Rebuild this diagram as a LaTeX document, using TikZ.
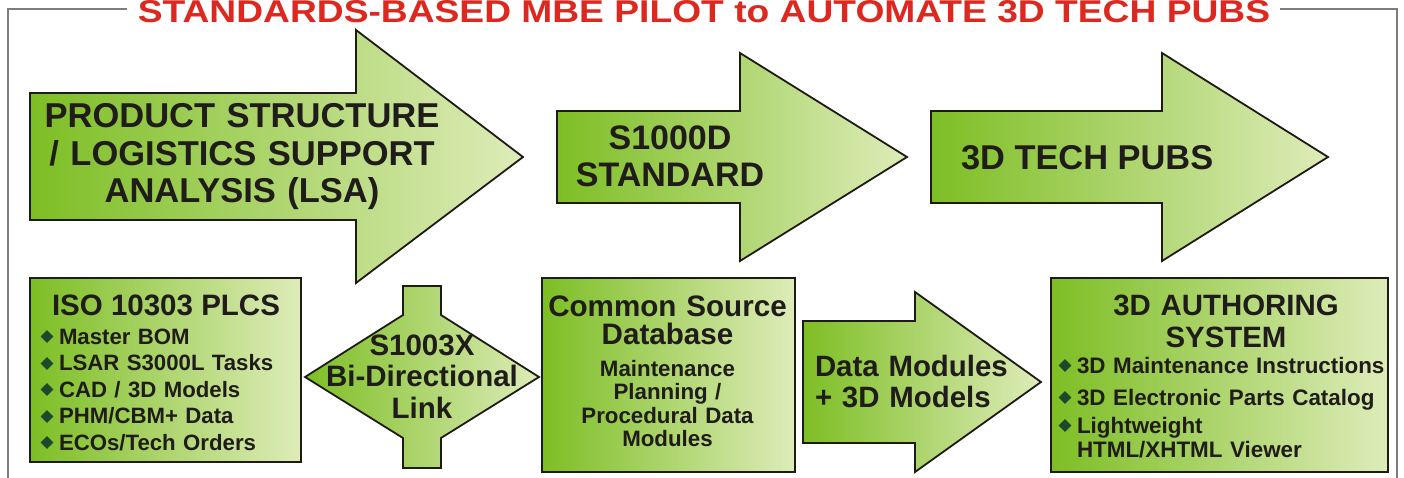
\documentclass[tikz,border=0pt]{standalone}
\usepackage{fontspec}
\setmainfont{Liberation Sans}
\usetikzlibrary{shapes.geometric}
\definecolor{gA}{RGB}{125,190,36}
\definecolor{gB}{RGB}{222,236,185}
\definecolor{edge}{RGB}{30,26,22}
\definecolor{ink}{RGB}{32,28,25}
\definecolor{titlered}{RGB}{221,40,32}
\definecolor{framegray}{RGB}{125,125,125}
\definecolor{bulgreen}{RGB}{28,72,44}
\begin{document}
\begin{tikzpicture}[x=1pt,y=-1pt,
  greenshape/.style={draw=edge,line width=1.8pt,left color=gA,right color=gB},
  frameline/.style={draw=framegray,line width=2.2pt},
  lbl/.style={text=ink,inner sep=0pt,outer sep=0pt,anchor=base},
  bul/.style={diamond,fill=bulgreen,inner sep=0pt,minimum width=13pt,minimum height=13pt}]
\useasboundingbox (0,0) rectangle (1404,478);
% frame
\draw[frameline] (127,9) -- (8,9) -- (8,482);
\draw[frameline] (1280,9) -- (1397,9) -- (1397,482);
\node[inner sep=0pt,anchor=base] (title) at (704,23)
  {\resizebox{1132pt}{22pt}{\color{titlered}\bfseries STANDARDS-BASED MBE PILOT to AUTOMATE 3D TECH PUBS}};
% big arrows
\draw[greenshape] (30,93) -- (356,93) -- (356,30) -- (523,157) -- (356,283) -- (356,220) -- (30,220) -- cycle;
\draw[greenshape] (557,111) -- (740,111) -- (740,53) -- (907,157) -- (740,261) -- (740,203) -- (557,203) -- cycle;
\draw[greenshape] (931,111) -- (1162,111) -- (1162,53) -- (1328,157) -- (1162,261) -- (1162,203) -- (931,203) -- cycle;
% lower shapes
\draw[greenshape] (30,278) rectangle (301,462);
\draw[greenshape] (403,286) -- (441,286) -- (441,315) -- (539,377) -- (441,438) -- (441,468) -- (403,468) -- (403,438) -- (305,377) -- (403,315) -- cycle;
\draw[greenshape] (542,278) rectangle (795,472);
\draw[greenshape] (803,321) -- (915,321) -- (915,292) -- (1041,382) -- (915,472) -- (915,443) -- (803,443) -- cycle;
\draw[greenshape] (1051,278) rectangle (1388,472);
% texts
\node[lbl,font=\bfseries\fontsize{34.5}{37.5}\selectfont,text width=440pt,align=center] (t1) at (242,128)
  {PRODUCT STRUCTURE\\/ LOGISTICS SUPPORT\\ANALYSIS (LSA)};
\node[lbl,font=\bfseries\fontsize{34}{37}\selectfont,text width=240pt,align=center] (t2) at (670,150)
  {S1000D\\STANDARD};
\node[lbl,font=\bfseries\fontsize{34.4}{37}\selectfont,anchor=base west] (t3) at (961,170) {3D TECH PUBS};
\node[lbl,font=\bfseries\fontsize{29.4}{31}\selectfont,text width=220pt,align=left,anchor=base west] (t4) at (815,376)
  {Data Modules\\+ 3D Models};
\node[lbl,font=\bfseries\fontsize{29.5}{31.5}\selectfont,text width=220pt,align=center] (t5) at (422,355)
  {S1003X\\Bi-Directional\\Link};
\node[lbl,font=\bfseries\fontsize{29.5}{31}\selectfont] (isoT) at (166,315) {ISO 10303 PLCS};
\node[lbl,font=\bfseries\fontsize{22.2}{26.5}\selectfont,text width=240pt,align=left,anchor=base west] (isoL) at (59,344)
  {Master BOM\\LSAR S3000L Tasks\\CAD / 3D Models\\PHM/CBM+ Data\\ECOs/Tech Orders};
\node[lbl,font=\bfseries\fontsize{29.6}{28}\selectfont,text width=250pt,align=center] (csT) at (667.5,316)
  {Common Source\\Database};
\node[lbl,font=\bfseries\fontsize{22.3}{23.5}\selectfont,text width=240pt,align=center] (csL) at (667.5,376)
  {Maintenance\\Planning /\\Procedural Data\\Modules};
\node[lbl,font=\bfseries\fontsize{29.4}{32}\selectfont,text width=300pt,align=center] (auT) at (1226,315)
  {3D AUTHORING\\SYSTEM};
\node[lbl,font=\bfseries\fontsize{22.4}{24}\selectfont,text width=320pt,align=left,anchor=base west] (auL) at (1077,373)
  {3D Maintenance Instructions\\[8pt]3D Electronic Parts Catalog\\[4pt]Lightweight\\HTML/XHTML Viewer};
% bullets
\node[bul] (bi1) at (47,336.5) {};
\node[bul] (bi2) at (47,363.5) {};
\node[bul] (bi3) at (47,389.5) {};
\node[bul] (bi4) at (47,416.5) {};
\node[bul] (bi5) at (47,442.5) {};
\node[bul] (ba1) at (1065,365.5) {};
\node[bul] (ba2) at (1065,397.5) {};
\node[bul] (ba3) at (1065,425.5) {};
\end{tikzpicture}
\end{document}
